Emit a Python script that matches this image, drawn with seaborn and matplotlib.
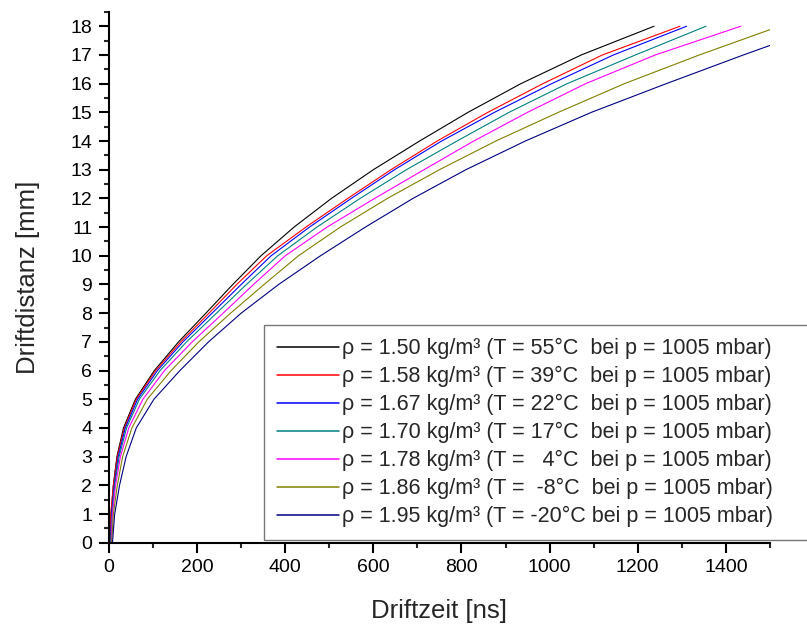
import matplotlib
matplotlib.use("Agg")
import matplotlib.pyplot as plt
from matplotlib.ticker import MultipleLocator
import seaborn as sns

# drift time [ns] at each drift distance [mm], one list per gas density
dist_full = list(range(0, 19))

t_150 = [3, 5, 10, 18, 33, 60, 103, 158, 220, 281, 345, 420, 505, 600, 705, 815, 935, 1072, 1237]
t_158 = [1, 4, 10, 19, 35, 62, 106, 163, 227, 290, 358, 447, 542, 640, 745, 860, 985, 1120, 1296]
t_167 = [4, 6, 12, 21, 37, 65, 110, 168, 234, 300, 368, 455, 550, 648, 755, 875, 1005, 1145, 1311]
t_170 = [4, 7, 13, 23, 40, 69, 116, 176, 244, 312, 383, 472, 570, 675, 790, 908, 1040, 1195, 1355]
t_178 = [5, 8, 15, 26, 45, 77, 126, 189, 259, 328, 400, 495, 603, 715, 828, 950, 1082, 1240, 1434]

dist_186 = list(range(0, 18)) + [17.88]
t_186 = [6, 10, 19, 31, 52, 87, 141, 204, 276, 352, 430, 525, 632, 750, 878, 1020, 1170, 1340, 1500]

dist_195 = list(range(0, 18)) + [17.33]
t_195 = [8, 13, 24, 39, 62, 102, 161, 226, 300, 385, 480, 582, 690, 810, 945, 1095, 1265, 1440, 1500]

labels = [
    "ρ = 1.50 kg/m³ (T = 55°C  bei p = 1005 mbar)",
    "ρ = 1.58 kg/m³ (T = 39°C  bei p = 1005 mbar)",
    "ρ = 1.67 kg/m³ (T = 22°C  bei p = 1005 mbar)",
    "ρ = 1.70 kg/m³ (T = 17°C  bei p = 1005 mbar)",
    "ρ = 1.78 kg/m³ (T =   4°C  bei p = 1005 mbar)",
    "ρ = 1.86 kg/m³ (T =  -8°C  bei p = 1005 mbar)",
    "ρ = 1.95 kg/m³ (T = -20°C bei p = 1005 mbar)",
]
colors = ["#000000", "#FF0000", "#0000FF", "#008080", "#FF00FF", "#808000", "#000080"]

curves = [
    (t_150, dist_full),
    (t_158, dist_full),
    (t_167, dist_full),
    (t_170, dist_full),
    (t_178, dist_full),
    (t_186, dist_186),
    (t_195, dist_195),
]

sns.set_style("ticks")
plt.rcParams["font.family"] = ["Liberation Sans", "DejaVu Sans"]

fig = plt.figure(figsize=(8.07, 6.26), dpi=100)
ax = fig.add_axes([0.135, 0.133, 0.819, 0.848])

for (t, d), lab, col in zip(curves, labels, colors):
    sns.lineplot(x=t, y=d, color=col, label=lab, linewidth=0.8, ax=ax, sort=False)

ax.set_xlim(0, 1500)
ax.set_ylim(0, 18.5)
ax.xaxis.set_major_locator(MultipleLocator(200))
ax.xaxis.set_minor_locator(MultipleLocator(100))
ax.yaxis.set_major_locator(MultipleLocator(1))
ax.yaxis.set_minor_locator(MultipleLocator(0.5))
ax.tick_params(which="major", direction="out", length=7, width=1.5, pad=5,
               labelsize=14, colors="black")
ax.tick_params(which="minor", direction="out", length=3.5, width=1.5)
sns.despine(ax=ax)
for s in ["left", "bottom"]:
    ax.spines[s].set_linewidth(1.5)
    ax.spines[s].set_color("black")

ax.set_xlabel("Driftzeit [ns]", fontsize=18.5, labelpad=16)
ax.set_ylabel("Driftdistanz [mm]", fontsize=18.5, labelpad=22)

leg = ax.legend(loc="upper left", mode="expand",
                bbox_to_anchor=(264 / 807, 93 / 626, 0.7, 208 / 626),
                bbox_transform=fig.transFigure,
                fontsize=15.5, frameon=True, fancybox=False, handlelength=2.9,
                handletextpad=0.1, labelspacing=0.32, borderpad=0.6, borderaxespad=0)
leg.get_frame().set_edgecolor("#555555")
leg.get_frame().set_linewidth(1.0)
for line in leg.get_lines():
    line.set_linewidth(1.1)

fig.savefig("out.png", dpi=100)
